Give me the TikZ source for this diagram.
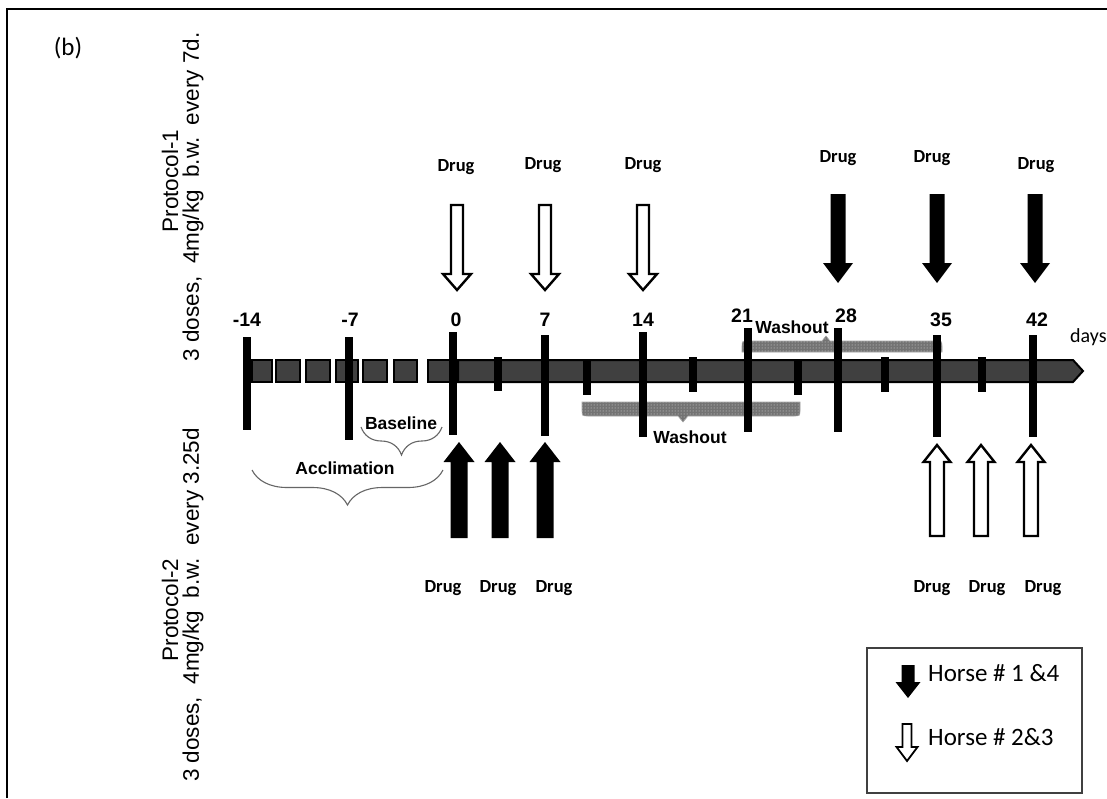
\documentclass[tikz,border=0pt]{standalone}
\usepackage{fontspec}
\setmainfont{Liberation Sans}
\newfontfamily\calfont{Carlito}
\usetikzlibrary{decorations.pathreplacing,patterns}
\newcommand\blockarrow[6]{(#1-#5,#2) -- (#1+#5,#2) -- (#1+#5,#3) -- (#1+#6,#3) -- (#1,#4) -- (#1-#6,#3) -- (#1-#5,#3) -- cycle}
\definecolor{bargray}{HTML}{404040}
\begin{document}
\begin{tikzpicture}[x=1pt,y=-1pt,
  numlbl/.style={font=\bfseries\fontsize{19.5}{21}\selectfont, inner sep=0pt},
  druglbl/.style={font=\calfont\bfseries\fontsize{18.5}{20}\selectfont, inner sep=0pt},
  sidelbl/.style={font=\fontsize{22.5}{24}\selectfont, rotate=90, inner sep=0pt},
  phaselbl/.style={font=\bfseries\fontsize{17.5}{19}\selectfont, inner sep=0pt},
  bigtick/.style={line width=8pt},
  smalltick/.style={line width=8pt},
  wharrow/.style={draw=black, fill=white, line width=2.4pt, line join=miter},
  blarrow/.style={fill=black},
  barbox/.style={fill=bargray, draw=black, line width=2pt},
  phasebrace/.style={decorate, decoration={brace, amplitude=#1}, draw=black!60, line width=1.1pt},
  washfill/.style={fill=black!55, draw=gray!70, line width=0.6pt, postaction={pattern=dots, pattern color=gray!25}}
]
\useasboundingbox (0,0) rectangle (1107,798);
\fill[white] (0,0) rectangle (1107,798);
% frame
\draw[line width=2pt] (7,798) -- (7,9) -- (1107,9);
\node[font=\calfont\fontsize{25}{26}\selectfont, inner sep=0pt] (panel) at (68,48) {(b)};

% side labels
\node[sidelbl] (p1a) at (170,181) {Protocol-1};
\node[sidelbl] (p1b) at (193,197) {3 doses,\ \ 4mg/kg\ \ b.w.\ \ every 7d.};
\node[sidelbl] (p2a) at (170,610) {Protocol-2};
\node[sidelbl] (p2b) at (193,605) {3 doses,\ \ 4mg/kg\ \ b.w.\ \ every 3.25d};

% dashed part of timeline
\foreach \a/\b in {252/272,276/300,306/330,336/358,363/387,394/417,428/450}
  \draw[barbox] (\a,360) rectangle (\b,382);
% solid part of timeline
\draw[barbox] (458,360) -- (1073,360) -- (1083,371) -- (1073,382) -- (458,382) -- cycle;

% washout shapes
\path[washfill] (742,347) .. controls (742,341) .. (748,341) -- (822,341) -- (826,336) -- (830,341) -- (936,341) .. controls (942,341) .. (942,347) -- (942,352) -- (742,352) -- cycle;
\path[washfill] (582,402) -- (800,402) -- (800,410) .. controls (800,416) .. (794,416) -- (688,416) -- (683,422) -- (678,416) -- (588,416) .. controls (582,416) .. (582,410) -- cycle;

% ticks
\foreach \x/\a/\b in {247/337/430, 349/337/440, 453/332/435, 545/335/436, 643/332/437, 748/328/432, 838/328/432, 937/335/437, 1033/335/437}
  \draw[bigtick] (\x,\a) -- (\x,\b);
\foreach \x/\a/\b in {498/357/391, 587/359/395, 693/357/392, 798/360/395, 885/357/392, 982/357/392}
  \draw[smalltick] (\x,\a) -- (\x,\b);

% tick labels
\node[numlbl] (tm14) at (247,320) {-14};
\node[numlbl] (tm7) at (350,320) {-7};
\node[numlbl] (t0) at (456,320) {0};
\node[numlbl] (t7) at (545,320) {7};
\node[numlbl] (t14) at (643,320) {14};
\node[numlbl] (t21) at (742,316) {21};
\node[numlbl] (t28) at (846,316) {28};
\node[numlbl] (t35) at (941,320) {35};
\node[numlbl] (t42) at (1037,320) {42};
\node[font=\calfont\fontsize{20}{22}\selectfont, inner sep=0pt, anchor=west] (days) at (1070,337) {days};

% phase labels
\node[phaselbl] (wash1) at (792,327) {Washout};
\node[phaselbl] (wash2) at (690,437) {Washout};
\node[phaselbl] (base) at (401,423) {Baseline};
\node[phaselbl] (accl) at (345,468) {Acclimation};
\draw[phasebrace=35pt] (443,470) -- (252,470);
\draw[phasebrace=28pt] (442,427) -- (361,427);

% protocol-1 arrows (top)
\foreach \x in {457,545,643}
  \draw[wharrow] \blockarrow{\x}{205}{274}{290}{6}{14};
\foreach \x in {838,937,1035}
  \fill[blarrow] \blockarrow{\x}{194}{263}{283}{7.5}{15};
\node[druglbl] (d1) at (456,167) {Drug};
\node[druglbl] (d2) at (543,165) {Drug};
\node[druglbl] (d3) at (643,165) {Drug};
\node[druglbl] (d4) at (838,158) {Drug};
\node[druglbl] (d5) at (932,158) {Drug};
\node[druglbl] (d6) at (1036,165) {Drug};

% protocol-2 arrows (bottom)
\foreach \x in {459,500,545}
  \fill[blarrow] \blockarrow{\x}{538}{462}{442}{8.5}{15.5};
\foreach \x in {937,981,1031}
  \draw[wharrow] \blockarrow{\x}{536}{462}{445}{7}{13.5};
\node[druglbl] (d7) at (443,588) {Drug};
\node[druglbl] (d8) at (498,588) {Drug};
\node[druglbl] (d9) at (554,588) {Drug};
\node[druglbl] (d10) at (932,588) {Drug};
\node[druglbl] (d11) at (987,588) {Drug};
\node[druglbl] (d12) at (1043,588) {Drug};

% legend
\draw[line width=1.3pt, draw=black!75] (867,648) rectangle (1082,793);
\fill[blarrow] \blockarrow{908}{665}{682}{698}{6.5}{12.5};
\draw[wharrow, line width=1.8pt] \blockarrow{907}{724}{747}{761}{4.5}{10.5};
\node[font=\calfont\fontsize{25}{26}\selectfont, inner sep=0pt, anchor=west] (leg1) at (928,673) {Horse \# 1 \&4};
\node[font=\calfont\fontsize{25}{26}\selectfont, inner sep=0pt, anchor=west] (leg2) at (928,737) {Horse \# 2\&3};
\end{tikzpicture}
\end{document}
